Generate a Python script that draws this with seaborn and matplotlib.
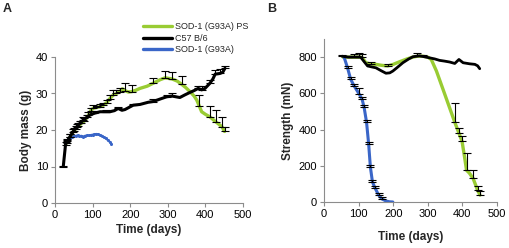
import numpy as np
import pandas as pd
import matplotlib
matplotlib.use("Agg")
import matplotlib.pyplot as plt
import seaborn as sns

# ---------------- data: panel A (body mass, g) ----------------
a_c57_days = [22, 28, 33, 40, 50, 58, 66, 75, 85, 93, 105, 120, 135, 146, 158, 168, 178, 186, 197, 208,
              226, 248, 261, 280, 297, 311, 332, 345, 359, 370, 381, 390, 399, 412, 420, 426, 439, 446, 452]
a_c57_mass = [10.0, 16.0, 17.0, 18.2, 19.8, 20.9, 21.8, 22.7, 23.5, 24.1, 24.6, 25.0, 25.0, 25.0, 25.3, 25.9, 25.4, 25.6, 26.2, 26.8,
              27.0, 27.6, 27.8, 28.5, 29.1, 29.3, 28.9, 29.6, 30.3, 30.8, 31.4, 31.0, 31.4, 32.8, 34.0, 35.3, 35.5, 35.8, 36.9]
a_c57_err = [0.2, 0.6, 0.6, 0.7, 0.8, 0.8, 0.8, 0.8, 0.7, 0, 0.6, 0, 0.5, 0, 0, 0.5, 0, 0, 0, 0.4,
             0, 0, 0.7, 0, 0.5, 0.7, 0, 0, 0, 0, 0.6, 1.0, 0, 1.0, 0, 1.2, 1.2, 0, 0.7]

a_ps_days = [33, 40, 48, 55, 62, 70, 78, 89, 95, 102, 112, 120, 128, 138, 145, 155, 163, 172, 179, 186,
             195, 204, 215, 226, 245, 261, 280, 293, 311, 325, 337, 348, 359, 370, 377, 384, 390, 400, 412, 427, 444, 451]
a_ps_mass = [16.5, 18.0, 19.5, 20.3, 21.2, 21.8, 22.5, 24.0, 25.3, 26.0, 26.2, 26.4, 26.8, 27.5, 28.5, 29.6, 30.0, 30.5, 31.3, 30.8,
             30.4, 30.5, 30.9, 31.4, 32.0, 32.8, 33.8, 34.3, 34.0, 33.4, 32.5, 31.6, 30.5, 29.3, 28.2, 26.5, 25.0, 24.3, 23.6, 22.3, 20.9, 19.6]
a_ps_err = [0.8, 0.8, 0.8, 0.8, 0.8, 0.8, 0.8, 1.0, 0.8, 0.8, 0.5, 0.6, 0.5, 0.8, 1.0, 1.3, 1.0, 0.9, 0, 2.0,
            0, 1.8, 0, 0, 0, 1.5, 0, 1.8, 2.0, 0, 2.3, 0, 0, 0, 0, 3.0, 0, 0, 2.9, 3.2, 2.6, 1.1]

a_sod_days = [32, 36, 40, 45, 50, 55, 60, 65, 70, 75, 80, 85, 90, 95, 100, 105, 110, 115, 120, 125, 130, 135, 140, 145, 150]
a_sod_mass = [17.0, 17.6, 17.9, 18.0, 18.3, 18.4, 18.5, 18.3, 18.4, 18.2, 18.4, 18.5, 18.5, 18.6, 18.7, 18.8, 18.9, 18.8, 18.6,
              18.4, 18.0, 17.7, 17.3, 16.8, 16.2]

# ---------------- data: panel B (strength, mN) ----------------
b_c57_days = [52, 70, 90, 106, 116, 126, 140, 150, 165, 179, 190, 199, 210, 228, 245, 257, 276, 290, 305, 320,
              334, 348, 363, 378, 390, 402, 421, 436, 444, 450]
b_c57_str = [805, 800, 800, 800, 775, 751, 745, 741, 725, 711, 713, 723, 740, 769, 790, 802, 807, 802, 796, 790,
             782, 778, 773, 765, 787, 769, 763, 760, 752, 736]
b_c57_err = [8, 0, 0, 0, 0, 0, 0, 0, 0, 0, 0, 0, 0, 0, 0, 0, 0, 0, 0, 0,
             0, 0, 0, 0, 0, 0, 0, 0, 0, 0]

b_ps_days = [55, 70, 87, 100, 110, 121, 135, 150, 165, 184, 200, 218, 240, 257, 270, 286, 300, 310, 325, 350,
             378, 390, 399, 407, 412, 420, 431, 444, 451]
b_ps_str = [800, 800, 800, 800, 798, 769, 762, 760, 755, 751, 760, 774, 790, 800, 805, 805, 800, 787, 723, 590,
            440, 380, 335, 239, 175, 160, 130, 65, 38]
b_ps_err = [0, 5, 15, 20, 20, 0, 10, 0, 0, 10, 0, 0, 0, 0, 15, 5, 0, 0, 0, 0,
            106, 30, 28, 0, 97, 0, 45, 25, 24]

b_sod_days = [58, 68, 77, 87, 102, 110, 116, 123, 129, 134, 140, 148, 158, 168, 180, 190, 199]
b_sod_str = [800, 741, 678, 641, 595, 568, 522, 440, 321, 194, 111, 75, 38, 16, 5, 1, 0]
b_sod_err = [0, 12, 12, 12, 37, 12, 12, 12, 12, 12, 12, 12, 12, 10, 0, 0, 0]

labels = ["SOD-1 (G93A) PS", "C57 B/6", "SOD-1 (G93A)"]
xticks = [0, 100, 200, 300, 400, 500]
a_yticks = [0, 10, 20, 30, 40]
b_yticks = [0, 200, 400, 600, 800]

GREEN = "#99cc33"
BLACK = "#000000"
BLUE = "#3a66c8"
SPINE = "#8c8c8c"

sns.set_style("ticks")
plt.rcParams["font.family"] = ["Liberation Sans", "DejaVu Sans"]

fig = plt.figure(figsize=(5.10, 2.48), dpi=100)
axA = fig.add_axes([55 / 510, 1 - 203 / 248, 188 / 510, 146 / 248])
axB = fig.add_axes([324 / 510, 1 - 202 / 248, 173 / 510, 163 / 248])


def draw_err(ax, days, vals, errs):
    d = np.array(days, float)
    v = np.array(vals, float)
    e = np.array(errs, float)
    m = e > 0
    ax.errorbar(d[m], v[m], yerr=[np.zeros(m.sum()), e[m]], fmt="none", ecolor="black",
                elinewidth=0.8, capsize=2.8, capthick=0.8, zorder=5)


# Panel A
dfA_ps = pd.DataFrame({"day": a_ps_days, "val": a_ps_mass})
dfA_c57 = pd.DataFrame({"day": a_c57_days, "val": a_c57_mass})
dfA_sod = pd.DataFrame({"day": a_sod_days, "val": a_sod_mass})
sns.lineplot(data=dfA_ps, x="day", y="val", ax=axA, color=GREEN, lw=2.4, label=labels[0], zorder=3)
sns.lineplot(data=dfA_c57, x="day", y="val", ax=axA, color=BLACK, lw=2.2, label=labels[1], zorder=4)
sns.lineplot(data=dfA_sod, x="day", y="val", ax=axA, color=BLUE, lw=1.6, marker="o", markersize=2.2,
             markeredgewidth=0, label=labels[2], zorder=3)
draw_err(axA, a_ps_days, a_ps_mass, a_ps_err)
draw_err(axA, a_c57_days, a_c57_mass, a_c57_err)

axA.set_xlim(0, 500)
axA.set_ylim(0, 40)
axA.set_xticks(xticks)
axA.set_yticks(a_yticks)
axA.set_xlabel("Time (days)", fontsize=8.5, fontweight="bold", labelpad=3)
axA.set_ylabel("Body mass (g)", fontsize=8.5, fontweight="bold", labelpad=3)

leg = axA.legend(loc="upper left", bbox_to_anchor=(143 / 510, 1 - 22 / 248), bbox_transform=fig.transFigure,
                 frameon=False, fontsize=6.5, handlelength=3.2, handletextpad=0.3, labelspacing=0.3,
                 borderpad=0, borderaxespad=0)
for line in leg.get_lines():
    line.set_marker("")
    line.set_linewidth(2.4)

# Panel B
dfB_ps = pd.DataFrame({"day": b_ps_days, "val": b_ps_str})
dfB_c57 = pd.DataFrame({"day": b_c57_days, "val": b_c57_str})
dfB_sod = pd.DataFrame({"day": b_sod_days, "val": b_sod_str})
sns.lineplot(data=dfB_ps, x="day", y="val", ax=axB, color=GREEN, lw=2.4, zorder=3)
sns.lineplot(data=dfB_c57, x="day", y="val", ax=axB, color=BLACK, lw=2.0, zorder=4)
sns.lineplot(data=dfB_sod, x="day", y="val", ax=axB, color=BLUE, lw=2.2, zorder=3)
draw_err(axB, b_ps_days, b_ps_str, b_ps_err)
draw_err(axB, b_c57_days, b_c57_str, b_c57_err)
draw_err(axB, b_sod_days, b_sod_str, b_sod_err)

axB.set_xlim(0, 500)
axB.set_ylim(0, 900)
axB.set_xticks(xticks)
axB.set_yticks(b_yticks)
axB.set_xlabel("Time (days)", fontsize=8.5, fontweight="bold", labelpad=9)
axB.set_ylabel("Strength (mN)", fontsize=8.5, fontweight="bold", labelpad=3)

for ax in (axA, axB):
    sns.despine(ax=ax)
    ax.spines["left"].set_color(SPINE)
    ax.spines["bottom"].set_color(SPINE)
    ax.spines["left"].set_linewidth(0.8)
    ax.spines["bottom"].set_linewidth(0.8)
    ax.tick_params(axis="both", colors=SPINE, labelcolor="black", labelsize=8, length=3, width=0.8, pad=2)

fig.text(3 / 510, 1 - 9 / 248, "A", fontsize=9, fontweight="bold", va="center", ha="left")
fig.text(267 / 510, 1 - 9 / 248, "B", fontsize=9, fontweight="bold", va="center", ha="left")

fig.savefig("out.png", dpi=100)
